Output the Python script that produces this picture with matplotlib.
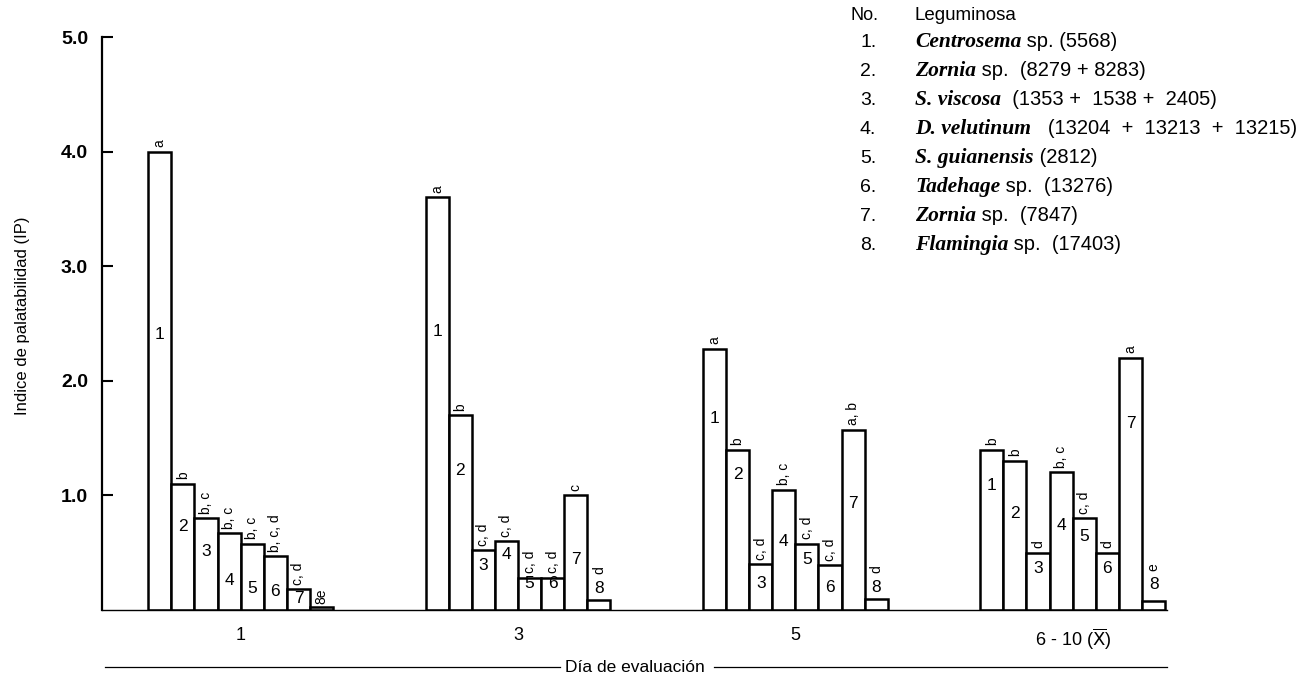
import matplotlib
matplotlib.use('Agg')
import matplotlib.pyplot as plt
import numpy as np

# ---------------- data ----------------
days = ['1', '3', '5', r'6 - 10 ($\overline{\mathrm{X}}$)']
species_no = [1, 2, 3, 4, 5, 6, 7, 8]
genus = ['Centrosema', 'Zornia', 'S. viscosa', 'D. velutinum',
         'S. guianensis', 'Tadehage', 'Zornia', 'Flamingia']
accession = [' sp. (5568)', ' sp.  (8279 + 8283)', '  (1353 +  1538 +  2405)',
             '   (13204  +  13213  +  13215)', ' (2812)', ' sp.  (13276)',
             ' sp.  (7847)', ' sp.  (17403)']

ip_day1 = [4.0, 1.1, 0.8, 0.67, 0.58, 0.47, 0.18, 0.03]
ip_day3 = [3.6, 1.7, 0.52, 0.6, 0.28, 0.28, 1.0, 0.09]
ip_day5 = [2.28, 1.4, 0.4, 1.05, 0.58, 0.39, 1.57, 0.1]
ip_day6_10 = [1.4, 1.3, 0.5, 1.2, 0.8, 0.5, 2.2, 0.08]

sig_day1 = ['a', 'b', 'b, c', 'b, c', 'b, c', 'b, c, d', 'c, d', '8e']
sig_day3 = ['a', 'b', 'c, d', 'c, d', 'c, d', 'c, d', 'c', 'd']
sig_day5 = ['a', 'b', 'c, d', 'b, c', 'c, d', 'c, d', 'a, b', 'd']
sig_day6_10 = ['b', 'b', 'd', 'b, c', 'c, d', 'd', 'a', 'e']

ip_all = [ip_day1, ip_day3, ip_day5, ip_day6_10]
sig_all = [sig_day1, sig_day3, sig_day5, sig_day6_10]

# layout: vertical position of the species number written on each bar
num_pos = [[2.4, 0.73, 0.51, 0.26, 0.19, 0.16, 0.10, None],
           [2.43, 1.22, 0.39, 0.48, 0.23, 0.23, 0.44, 0.19],
           [1.67, 1.18, 0.23, 0.60, 0.44, 0.20, 0.93, 0.20],
           [1.09, 0.84, 0.36, 0.74, 0.64, 0.36, 1.63, 0.22]]

plt.rcParams['font.family'] = ['Liberation Sans', 'DejaVu Sans']

W, H = 1306, 684
fig = plt.figure(figsize=(W / 100, H / 100), dpi=100)
ax = fig.add_axes([102 / W, 1 - 610 / H, (1167 - 102) / W, (610 - 37) / H])

bw = 1 / 12
for gi, (vals, sigs, npos) in enumerate(zip(ip_all, sig_all, num_pos)):
    xs = gi + (np.arange(len(vals)) - 3.5) * bw
    ax.bar(xs, vals, width=bw, facecolor='white', edgecolor='black',
           linewidth=1.8, zorder=2)
    for x, v, s, n, npy in zip(xs, vals, sigs, species_no, npos):
        if npy is not None:
            ax.text(x, npy, str(n), ha='center', va='center', fontsize=12.5, zorder=3)
        if npy is not None and v < 0.15:
            ly = npy + 0.12
        elif npy is None:
            ly = v + 0.02
        else:
            ly = v + 0.04
        ax.text(x, ly, s, rotation=90, ha='center', va='bottom', fontsize=10, zorder=3)

ax.set_xlim(-0.5, 3.34)
ax.set_ylim(0, 5.0)
ax.spines['top'].set_visible(False)
ax.spines['right'].set_visible(False)
ax.spines['left'].set_linewidth(1.6)
ax.spines['bottom'].set_linewidth(1.0)
ax.set_yticks([1, 2, 3, 4, 5])
ax.set_yticklabels(['1.0', '2.0', '3.0', '4.0', '5.0'], fontsize=14, fontweight='bold')
ax.tick_params(axis='y', direction='in', length=8, width=1.5, pad=10)
ax.set_xticks(range(len(days)))
ax.set_xticklabels(days, fontsize=13)
ax.tick_params(axis='x', length=0, pad=12)

fig.text(23 / W, 1 - 316 / H, 'Indice de palatabilidad (IP)', rotation=90,
         ha='center', va='center', fontsize=12)

ax.text(0.5, -0.10, 'Día de evaluación', transform=ax.transAxes,
        ha='center', va='center', fontsize=12.5)
ax.plot([0.003, 0.43], [-0.10, -0.10], transform=ax.transAxes, clip_on=False,
        color='black', lw=0.9)
ax.plot([0.575, 1.0], [-0.10, -0.10], transform=ax.transAxes, clip_on=False,
        color='black', lw=0.9)

# legend block
fig.text(850 / W, 1 - 16 / H, 'No.', ha='left', va='center', fontsize=13)
fig.text(915 / W, 1 - 16 / H, 'Leguminosa', ha='left', va='center', fontsize=13.5)
renderer = fig.canvas.get_renderer()
for k, (n, g, a) in enumerate(zip(species_no, genus, accession)):
    y = 1 - (47 + 29 * k) / H
    fig.text(860 / W, y, f'{n}.', ha='left', va='baseline', fontsize=14)
    t = fig.text(915 / W, y, g, ha='left', va='baseline', fontsize=15.5,
                 family='Liberation Serif', style='italic', fontweight='bold')
    bb = t.get_window_extent(renderer)
    fig.text(bb.x1 / W, y, a, ha='left', va='baseline', fontsize=14.5)

fig.savefig('out.png', dpi=100)
